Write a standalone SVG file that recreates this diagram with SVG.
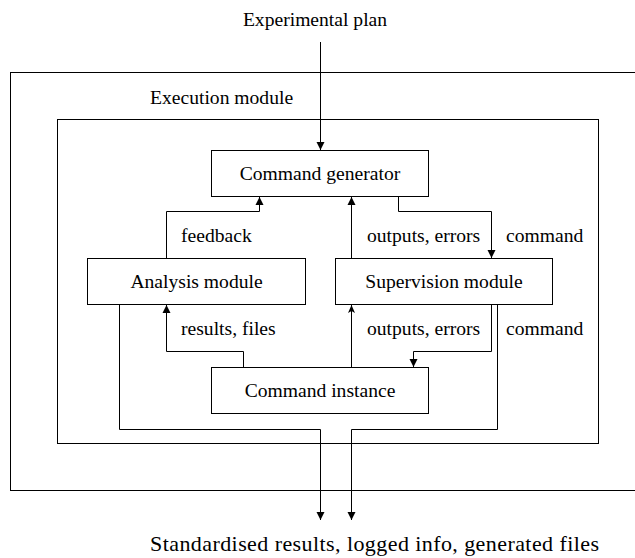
<svg xmlns="http://www.w3.org/2000/svg" width="635" height="558" viewBox="0 0 635 558">
<defs>
<style>
text{font-family:"Liberation Serif","Times New Roman",serif;font-size:19.6px;fill:#000}
.box{fill:#fff;stroke:#000;stroke-width:1}
.frame{fill:none;stroke:#000;stroke-width:1}
.c{fill:none;stroke:#000;stroke-width:1}
.mid{text-anchor:middle}
</style>
<marker id="ah" viewBox="0 0 8 10" refX="8" refY="5" markerWidth="8" markerHeight="10" markerUnits="userSpaceOnUse" orient="auto">
<path d="M0,1 L8,5 L0,9 Z" fill="#000"/>
</marker>
<marker id="ao" viewBox="0 0 8 10" refX="8" refY="5" markerWidth="8" markerHeight="10" markerUnits="userSpaceOnUse" orient="auto">
<path d="M0,1.5 L8,5 L0,8.5 L2,5 Z" fill="#000"/>
</marker>
</defs>
<rect class="frame" x="10.5" y="72.5" width="640" height="418"/>
<text x="150" y="104">Execution module</text>
<rect class="frame" x="57.5" y="119.5" width="541" height="324"/>
<text class="mid" x="315" y="26">Experimental plan</text>
<text x="150" y="551" style="font-size:22px" textLength="449" lengthAdjust="spacing">Standardised results, logged info, generated files</text>
<g id="connectors">
<path class="c" d="M320.5,42 V150" marker-end="url(#ah)"/>
<path class="c" d="M166.5,258 V211.5 H259.5 V197" marker-end="url(#ah)"/>
<path class="c" d="M351.5,258 V197" marker-end="url(#ah)"/>
<path class="c" d="M398.5,197 V211.5 H491.5 V258" marker-end="url(#ah)"/>
<path class="c" d="M243.5,367 V351.5 H166.5 V305" marker-end="url(#ah)"/>
<path class="c" d="M351.5,367 V305" marker-end="url(#ao)"/>
<path class="c" d="M491.5,305 V351.5 H413.5 V367" marker-end="url(#ah)"/>
<path class="c" d="M119.5,305 V429.5 H320.5 V520" marker-end="url(#ah)"/>
<path class="c" d="M497.5,305 V429.5 H351.5 V520" marker-end="url(#ah)"/>
<text x="181" y="242">feedback</text>
<text x="367" y="242">outputs, errors</text>
<text x="506" y="242">command</text>
<text x="181" y="335">results, files</text>
<text x="367" y="335">outputs, errors</text>
<text x="506" y="335">command</text>
</g>
<g id="command-generator">
<rect class="box" x="211.5" y="150.5" width="217" height="46"/>
<text class="mid" x="320" y="180">Command generator</text>
</g>
<g id="analysis-module">
<rect class="box" x="87.5" y="258.5" width="218" height="46"/>
<text class="mid" x="196.5" y="288">Analysis module</text>
</g>
<g id="supervision-module">
<rect class="box" x="335.5" y="258.5" width="217" height="46"/>
<text class="mid" x="444" y="288">Supervision module</text>
</g>
<g id="command-instance">
<rect class="box" x="211.5" y="367.5" width="217" height="46"/>
<text class="mid" x="320" y="397">Command instance</text>
</g>
</svg>
